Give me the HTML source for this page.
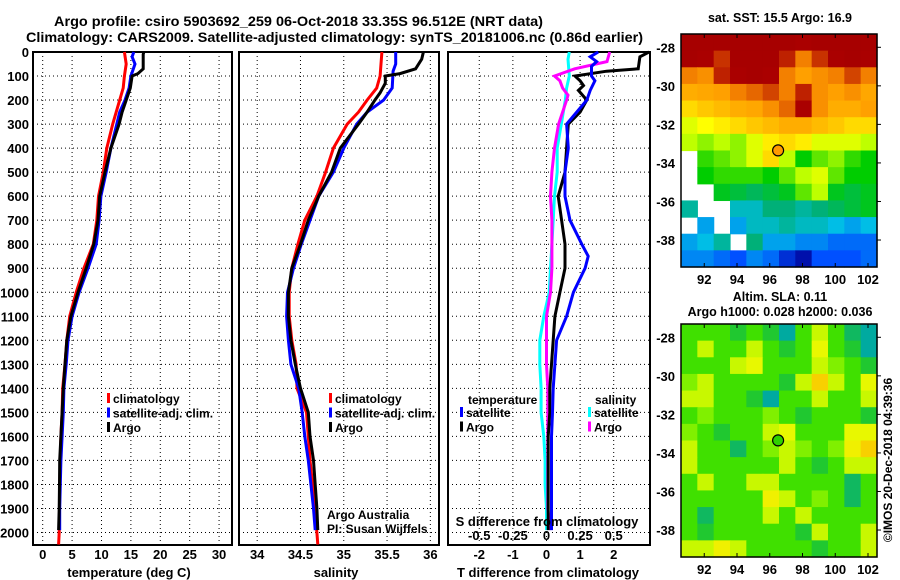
<!DOCTYPE html>
<html><head><meta charset="utf-8">
<style>
html,body{margin:0;padding:0;background:#fff;}
svg{display:block;}
text{font-family:"Liberation Sans",Arial,sans-serif;font-weight:bold;fill:#000;}
</style></head>
<body>
<svg id="chart" width="900" height="580" viewBox="0 0 900 580" xmlns="http://www.w3.org/2000/svg">
<text x="54" y="26" font-size="14" textLength="489" lengthAdjust="spacingAndGlyphs">Argo profile: csiro 5903692_259 06-Oct-2018 33.35S 96.512E (NRT data)</text>
<text x="26" y="42" font-size="14" textLength="617" lengthAdjust="spacingAndGlyphs">Climatology: CARS2009. Satellite-adjusted climatology: synTS_20181006.nc (0.86d earlier)</text>
<g id="g"></g>
</svg>
<script>
// ---------- data ----------
const depthTicks=[0,100,200,300,400,500,600,700,800,900,1000,1100,1200,1300,1400,1500,1600,1700,1800,1900,2000];
const tempTicks=[0,5,10,15,20,25,30];
const salTicks=[34,34.5,35,35.5,36];
const salTickLabels=["34","34.5","35","35.5","36"];
const tdiffTicks=[-2,-1,0,1,2];
const sdiffTicks=[-0.5,-0.25,0,0.25,0.5];
const sdiffTickLabels=["-0.5","-0.25","0","0.25","0.5"];

const tClimDepth=[0,50,100,150,200,250,300,400,500,600,700,800,900,1000,1100,1200,1300,1400,1500,1600,1700,1800,1900,2000,2050];
const tClim=[13.9,14.2,13.9,13.7,13.1,12.5,11.9,10.9,10.3,9.5,9.2,8.6,7.0,5.7,4.6,4.1,3.8,3.4,3.3,3.1,3.0,2.9,2.85,2.8,2.7];
const tSatDepth=[0,20,50,100,150,200,250,300,400,500,600,700,800,900,1000,1100,1200,1300,1400,1500,1600,1700,1800,1900,1990];
const tSat=[15.5,15.2,15.7,15.0,14.7,14.0,13.1,12.6,11.6,10.8,9.9,9.6,9.1,7.7,6.2,5.0,4.3,4.0,3.6,3.5,3.3,3.1,3.0,2.9,2.9];
const tArgoDepth=[0,10,70,90,100,150,200,250,300,400,500,600,700,800,900,1000,1100,1200,1300,1400,1500,1600,1700,1800,1900,1990];
const tArgo=[17.2,17.1,17.1,16.2,15.2,14.9,14.2,13.5,13.0,11.6,10.6,9.7,9.4,8.7,7.4,6.0,4.8,4.1,3.8,3.5,3.3,3.1,2.9,2.85,2.8,2.7];

const sClimDepth=[0,100,150,200,250,300,400,500,600,700,800,900,1000,1100,1200,1300,1400,1500,1600,1700,1800,1900,2000,2050];
const sClim=[35.44,35.42,35.38,35.27,35.17,35.04,34.88,34.79,34.69,34.55,34.47,34.40,34.37,34.37,34.40,34.45,34.46,34.57,34.59,34.61,34.64,34.66,34.69,34.70];
const sSatDepth=[0,50,80,150,200,250,300,400,500,600,700,800,900,1000,1100,1200,1300,1400,1500,1600,1700,1800,1900,1990];
const sSat=[35.6,35.6,35.57,35.56,35.46,35.27,35.15,35.0,34.88,34.71,34.61,34.51,34.42,34.35,34.34,34.36,34.39,34.48,34.52,34.55,34.59,34.62,34.65,34.67];
const sArgoDepth=[0,30,70,90,100,130,170,200,250,300,400,500,600,700,800,900,1000,1100,1200,1300,1400,1500,1600,1700,1800,1900,1990];
const sArgo=[35.92,35.9,35.83,35.65,35.48,35.48,35.42,35.36,35.27,35.17,34.96,34.86,34.71,34.59,34.50,34.40,34.36,34.36,34.39,34.44,34.50,34.59,34.61,34.65,34.67,34.69,34.70];

const dTArgoDepth=[0,20,70,80,100,120,140,160,200,250,300,400,500,600,700,800,900,1000,1100,1200,1300,1400,1500,1600,1700,1800,1900,1990];
const dTArgo=[3.05,2.78,2.73,1.79,0.85,1.0,1.1,0.95,1.2,1.0,0.65,0.6,0.55,0.35,0.45,0.55,0.55,0.4,0.25,0.2,0.15,0.1,0.1,0.05,0.05,0.05,0.05,0.05];
const dTSatDepth=[0,20,40,60,100,120,160,200,300,400,500,600,700,800,850,900,1000,1100,1200,1300,1400,1500,1600,1700,1800,1900,1990];
const dTSat=[1.54,1.3,1.49,1.34,1.34,1.44,1.3,1.2,0.6,0.65,0.55,0.55,0.7,1.05,1.24,1.15,0.8,0.6,0.3,0.25,0.2,0.18,0.15,0.15,0.15,0.15,0.15];
const dSArgoDepth=[0,40,70,100,120,150,180,200,250,300,400,500,600,700,800,900,1000,1100,1200,1300,1400,1500,1600,1700,1800,1900,1990];
const dSArgo=[0.47,0.45,0.21,0.06,0.1,0.12,0.16,0.15,0.12,0.09,0.06,0.04,0.03,0.04,0.04,0.04,0.03,0.0,0.0,0.0,0.01,0.01,0.01,0.01,0.01,0.01,0.03];
const dSSatDepth=[0,30,100,150,200,300,400,500,600,700,800,900,1000,1100,1200,1300,1400,1500,1600,1700,1800,1900,1990];
const dSSat=[0.17,0.16,0.17,0.15,0.14,0.11,0.08,0.08,0.06,0.05,0.04,0.03,0.02,-0.02,-0.05,-0.05,-0.04,-0.04,-0.02,-0.01,-0.01,0.0,0.0];

const lonTicks=[92,94,96,98,100,102];
const latTicks=[-28,-30,-32,-34,-36,-38];
const argoLon=96.51, argoLat=-33.35;
const sstGrid=[
[19,19,19,19,19,19,19,18.8,19,19,19,19],
[19,18.8,18.5,19,19,19,18.6,18,18.5,18.8,19,18.8],
[18,17.8,18.6,18.8,19,18.8,18,17.6,17.8,18,18.4,18],
[17.4,17.5,17.6,18,18.2,18.4,18,18.6,17.8,17.6,17.8,17.5],
[16.8,17,17.2,17.4,17.5,17.8,18.2,18.8,17.8,17.4,17.4,17.6],
[16.2,16.4,16.6,16.8,17,17.2,17.4,17.4,17.2,17,16.8,16.8],
[16,15.8,16,15.8,16.2,16.6,16.8,16.6,16.2,16.2,16.2,16],
[null,15.4,15.6,15.8,16.2,16.8,16,15.2,15.6,15.8,15.4,15.2],
[null,15.2,15.4,15.4,15.4,15.2,15.6,16,16.2,15.6,15.2,15.2],
[null,null,15,14.8,14.6,14.8,15,15.6,16,15,14.8,15],
[14.2,null,null,14,14,14.4,14.4,14.2,14.4,14.6,14.8,15],
[null,13.6,null,13.6,14,14,14.2,14,14,13.8,13.6,13.8],
[13.6,13.8,14.2,null,14.4,13.6,13.6,13.4,13.4,13.2,13.2,13.2],
[13.4,13.4,13.2,13,13.4,13.2,12.8,12.6,13,13,13,13.2]];
const slaGrid=[
[2,2,2,1.5,2,1.5,0.5,2,3,2,1,0.5],
[2,3,2,2,3,2,1.5,2,3.5,2,1.5,0.5],
[2,2,2,3,3.5,2,2,2,3,2.5,2,1.5],
[2.5,3,2,2,2,2,1.5,3,4.5,3,2,3.5],
[3,3,2,2,1.5,0.5,2,2,3,2,2,3],
[2,2.5,2,2,2,2.5,2,1.5,2,2,2,1.5],
[2.5,2,1.5,2,2,3,3.5,2,2,2,3.5,3.5],
[3,2,2,1,2,2.5,3,2.5,2,2.5,4,4.5],
[3,2,2,2,2,2,3,2,1.5,2,3,3],
[2,3,2,2,3,3,2,2,2,2,1,2],
[2,2,2,2,2,4,3,2,2.5,2,1,2],
[2,1,2,2,2,3,2,3,2,2,2,2],
[2,1.5,2,2,2,2,2,1.5,3,2,2,3],
[3,3,4,3,2,2,2,2,1.5,2,2,3]];

// ---------- helpers ----------
const NS="http://www.w3.org/2000/svg";
const G=document.getElementById('g');
function el(tag,attrs,parent){const e=document.createElementNS(NS,tag);for(const k in attrs)e.setAttribute(k,attrs[k]);(parent||G).appendChild(e);return e;}
function txt(s,x,y,size,anchor,parent){const t=el('text',{x:x,y:y,'font-size':size,'text-anchor':anchor||'middle'},parent);t.textContent=s;return t;}

const Y0=52, Y1=545, DMAX=2052;
const yD=d=>Y0+(d/DMAX)*(Y1-Y0);

function panel(name,x0,x1,vmin,vmax,vticks){
  const xs=v=>x0+(v-vmin)/(vmax-vmin)*(x1-x0);
  const g=el('g',{});
  
  
  depthTicks.forEach(d=>{const l=el('line',{x1:x0,x2:x1,y1:yD(d),y2:yD(d),stroke:'#000','stroke-width':1,'stroke-dasharray':'1,3'},g);
    });
  vticks.forEach(v=>{const l=el('line',{x1:xs(v),x2:xs(v),y1:Y0,y2:Y1,stroke:'#000','stroke-width':1,'stroke-dasharray':'1,3'},g);
    });
  const r=el('rect',{x:x0,y:Y0,width:x1-x0,height:Y1-Y0,fill:'none',stroke:'#000','stroke-width':2},g);
  
  return {g,xs};
}
function series(p,name,depths,vals,color,scale){
  const pts=depths.map((d,i)=>p.xs(vals[i]*(scale||1)).toFixed(1)+','+yD(d).toFixed(1)).join(' ');
  const l=el('polyline',{points:pts,fill:'none',stroke:color,'stroke-width':3,'stroke-linejoin':'miter'},p.g);
  
  
}
function legend(items,x,y,parent){
  items.forEach((it,i)=>{
    const r=el('rect',{x:x,y:y+i*14.5-10,width:3,height:10,fill:it[1]},parent);
    
    const t=txt(it[0],x+6,y+i*14.5,12,'start',parent);
    
  });
}

depthTicks.forEach(d=>{const t=txt(String(d),29,yD(d)+5,13,'end');
  });

const p1=panel('temperature-panel',33,232,-1.65,32.2,tempTicks);
series(p1,'temperature-climatology-line',tClimDepth,tClim,'#ff0000');
series(p1,'temperature-satellite-line',tSatDepth,tSat,'#0000ff');
series(p1,'temperature-argo-line',tArgoDepth,tArgo,'#000000');
tempTicks.forEach(v=>{const t=txt(String(v),p1.xs(v),559,13);});
let t1=txt('temperature (deg C)',129,577,13);
legend([['climatology','#ff0000'],['satellite-adj. clim.','#0000ff'],['Argo','#000000']],107,403,p1.g);

const p2=panel('salinity-panel',239,439,33.79,36.1,salTicks);
series(p2,'salinity-climatology-line',sClimDepth,sClim,'#ff0000');
series(p2,'salinity-satellite-line',sSatDepth,sSat,'#0000ff');
series(p2,'salinity-argo-line',sArgoDepth,sArgo,'#000000');
salTicks.forEach((v,i)=>{const t=txt(salTickLabels[i],p2.xs(v),559,13);});
let t2=txt('salinity',336,577,13);
legend([['climatology','#ff0000'],['satellite-adj. clim.','#0000ff'],['Argo','#000000']],329,403,p2.g);
let a1=txt('Argo Australia',327,519,12,'start');a1.setAttribute('font-weight','normal');
let a2=txt('PI: Susan Wijffels',327,533,12,'start');a2.setAttribute('font-weight','normal');

const p3=panel('difference-panel',448,650,-2.93,3.08,tdiffTicks);
series(p3,'salinity-satellite-diff-line',dSSatDepth,dSSat,'#00ffff',4);
series(p3,'salinity-argo-diff-line',dSArgoDepth,dSArgo,'#ff00ff',4);
series(p3,'temperature-argo-diff-line',dTArgoDepth,dTArgo,'#000000');
series(p3,'temperature-satellite-diff-line',dTSatDepth,dTSat,'#0000ff');
tdiffTicks.forEach(v=>{const t=txt(String(v),p3.xs(v),559,13);});
sdiffTicks.forEach((v,i)=>{const t=txt(sdiffTickLabels[i],p3.xs(v*4),540,13);});
let t3=txt('T difference from climatology',548,577,13);
let t4=txt('S difference from climatology',547,526,13);
let lt=txt('temperature',468,404,12,'start');
legend([['satellite','#0000ff'],['Argo','#000000']],460,417,p3.g);
let ls=txt('salinity',595,404,12,'start');
legend([['satellite','#00ffff'],['Argo','#ff00ff']],588,417,p3.g);

// ---------- maps ----------
const LON0=90.58,LON1=102.55,LAT0=-27.31,LAT1=-39.4, MX0=681,MX1=877;
function lerpColor(stops,v){
  if(v<=stops[0][0])return 'rgb('+stops[0][1].join(',')+')';
  for(let i=1;i<stops.length;i++){if(v<=stops[i][0]){const a=stops[i-1],b=stops[i],f=(v-a[0])/(b[0]-a[0]);
    return 'rgb('+[0,1,2].map(k=>Math.round(a[1][k]+(b[1][k]-a[1][k])*f)).join(',')+')';}}
  return 'rgb('+stops[stops.length-1][1].join(',')+')';
}
const sstStops=[[12.5,[0,0,150]],[13,[0,80,255]],[13.8,[0,190,230]],[14.4,[0,176,120]],[15.2,[0,205,0]],[16,[190,255,0]],[16.4,[255,255,0]],[17,[255,200,0]],[17.6,[255,160,0]],[18.1,[240,120,0]],[18.5,[200,50,0]],[18.8,[170,0,0]],[19.5,[160,0,0]]];
const slaStops=[[0.5,[0,170,160]],[1,[16,184,96]],[1.5,[32,200,48]],[2,[64,224,0]],[2.5,[128,240,0]],[3,[200,248,0]],[3.5,[232,248,0]],[4,[240,240,0]],[4.5,[248,208,0]]];

function map(name,grid,stops,ytop,ybot,markerFill,titles){
  const g=el('g',{});
  
  
  const xl=lon=>MX0+(lon-LON0)/(LON1-LON0)*(MX1-MX0);
  const yl=lat=>ytop+(lat-LAT0)/(LAT1-LAT0)*(ybot-ytop);
  const rows=grid.length, cols=grid[0].length;
  const cw=(MX1-MX0)/cols, ch=(ybot-ytop)/rows;
  grid.forEach((row,r)=>row.forEach((v,c)=>{
    if(v===null)return;
    const cell=el('rect',{x:(MX0+c*cw).toFixed(2),y:(ytop+r*ch).toFixed(2),width:(cw+0.6).toFixed(2),height:(ch+0.6).toFixed(2),fill:lerpColor(stops,v)},g);
    
    
  }));
  const fr=el('rect',{x:MX0,y:ytop,width:MX1-MX0,height:ybot-ytop,fill:'none',stroke:'#000','stroke-width':1.5},g);
  
  lonTicks.forEach(lon=>{
    el('line',{x1:xl(lon),x2:xl(lon),y1:ybot,y2:ybot-4,stroke:'#000'},g);
    el('line',{x1:xl(lon),x2:xl(lon),y1:ytop,y2:ytop+4,stroke:'#000'},g);
    const t=txt(String(lon),xl(lon),ybot+17,13,'middle',g);});
  latTicks.forEach(lat=>{
    el('line',{x1:MX1,x2:MX1+4,y1:yl(lat),y2:yl(lat),stroke:'#000'},g);
    const t=txt(String(lat),675,yl(lat)+5,13,'end',g);});
  const m=el('circle',{cx:xl(argoLon),cy:yl(argoLat),r:5.5,fill:markerFill,stroke:'#000','stroke-width':1.2},g);
  
  titles.forEach(tt=>{const t=txt(tt[0],780,tt[1],12.5,'middle',g);});
}
map('sst-map',sstGrid,sstStops,34,267,'#ff9a00',[['sat. SST: 15.5 Argo: 16.9',22]]);
map('sla-map',slaGrid,slaStops,324,557,'#30d000',[['Altim. SLA: 0.11',301],['Argo h1000: 0.028 h2000: 0.036',316]]);
const st=txt('©IMOS 20-Dec-2018 04:39:36',0,0,12,'middle');
st.setAttribute('font-weight','normal');
st.setAttribute('transform','translate(892,460) rotate(-90)');


</script>
</body></html>
